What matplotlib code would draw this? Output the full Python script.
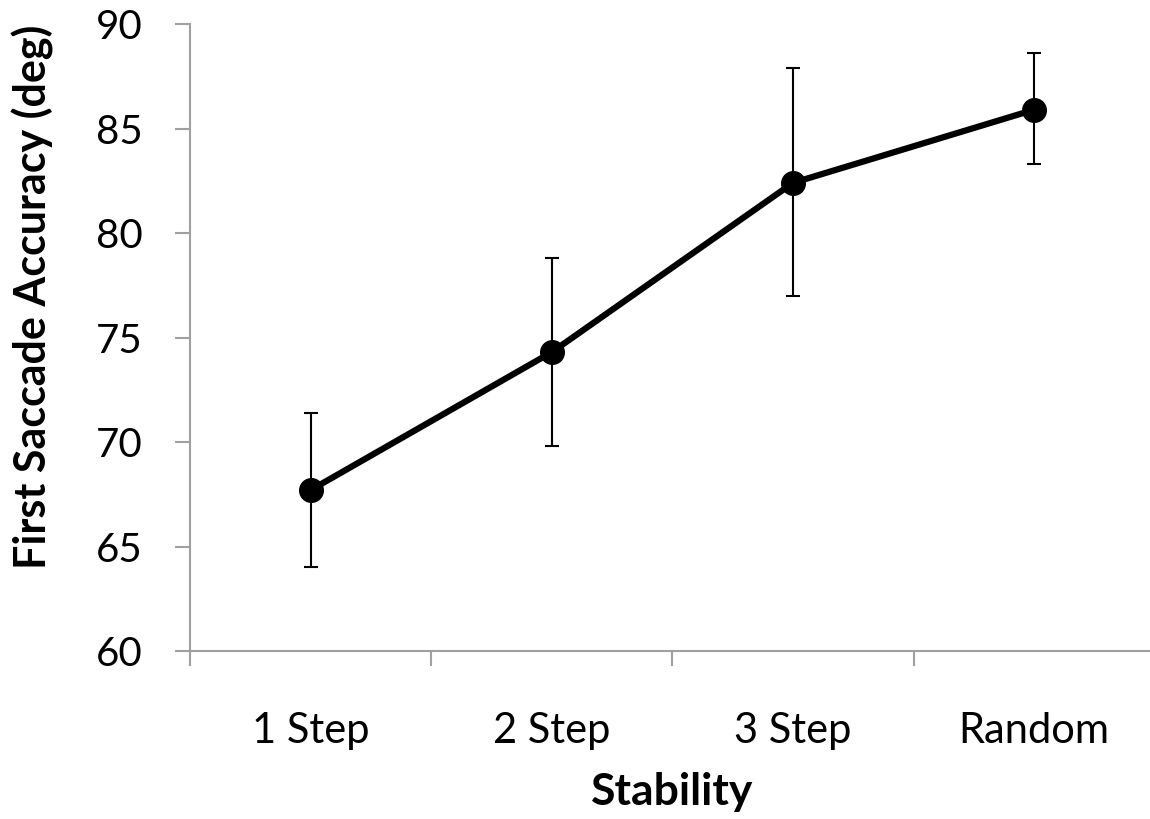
import matplotlib
matplotlib.use("Agg")
import matplotlib.pyplot as plt

# first saccade accuracy by stability condition
conditions = ["1 Step", "2 Step", "3 Step", "Random"]
accuracy = [67.7, 74.3, 82.4, 85.9]
err_upper = [71.4, 78.8, 87.9, 88.6]
err_lower = [64.0, 69.8, 77.0, 83.3]

plt.rcParams['font.family'] = ['Lato', 'DejaVu Sans']

fig = plt.figure(figsize=(11.5, 8.19), dpi=100)
ax = fig.add_axes([0.1652, 0.2051, 0.839, 0.7656])

x = list(range(1, len(conditions) + 1))
yerr = [[a - lo for a, lo in zip(accuracy, err_lower)],
        [hi - a for a, hi in zip(accuracy, err_upper)]]

ax.errorbar(x, accuracy, yerr=yerr, fmt='none', ecolor='black',
            elinewidth=1.5, capsize=4.7, capthick=1.5, zorder=2)
ax.plot(x, accuracy, color='black', linewidth=4.5, marker='o',
        markersize=17, zorder=3)

ax.set_xlim(0.5, len(conditions) + 0.5)
ax.set_ylim(60, 90)
ax.set_yticks(range(60, 91, 5))

# category boundaries get the tick marks, labels sit in between
ax.set_xticks([i + 0.5 for i in range(len(conditions) + 1)])
ax.set_xticklabels([])
ax.set_xticks(x, minor=True)
ax.set_xticklabels(conditions, minor=True)
ax.tick_params(axis='x', which='minor', length=0, pad=44, labelsize=30)
ax.tick_params(axis='x', which='major', length=11, width=1.5,
               color='#a0a0a0', direction='out')
ax.tick_params(axis='y', length=11, width=1.5, color='#a0a0a0',
               direction='out', pad=23, labelsize=29)

for side in ['top', 'right']:
    ax.spines[side].set_visible(False)
for side in ['left', 'bottom']:
    ax.spines[side].set_color('#a0a0a0')
    ax.spines[side].set_linewidth(1.5)

ax.set_xlabel("Stability", fontsize=32, fontweight='bold', labelpad=16)
ax.set_ylabel("First Saccade Accuracy (deg)", fontsize=31,
              fontweight='bold', labelpad=30)
# title sits a little above the middle of the axis
ax.yaxis.label.set_y(0.565)

fig.savefig("out.png", dpi=100)
